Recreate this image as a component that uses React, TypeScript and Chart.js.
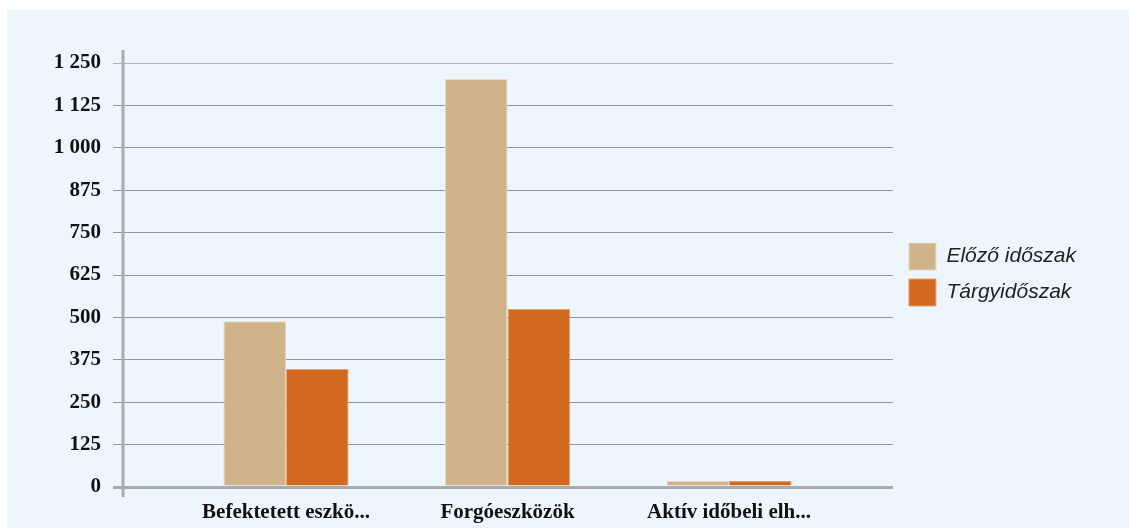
import React, { useEffect, useRef } from "react";
import { Chart, registerables } from "chart.js";

Chart.register(...registerables);

const categories = ["Befektetett eszkö...", "Forgóeszközök", "Aktív időbeli elh..."];
const seriesNames = ["Előző időszak", "Tárgyidőszak"];
const previousValues = [489, 1203, 18];
const currentValues = [348, 525, 18];
const yTicks = [0, 125, 250, 375, 500, 625, 750, 875, 1000, 1125, 1250];

const fmt = (v: number) => String(v).replace(/\B(?=(\d{3})+(?!\d))/g, " ");

const axisExtend = {
  id: "axisExtend",
  afterLayout(chart: any) {
    const lg = chart.legend;
    if (lg) {
      lg.top -= 21;
      lg.bottom -= 21;
      lg.left += 7;
      lg.right += 7;
    }
  },
  afterDraw(chart: any) {
    const { ctx, chartArea } = chart;
    ctx.save();
    ctx.strokeStyle = "#a9abad";
    ctx.lineWidth = 3;
    ctx.beginPath();
    ctx.moveTo(chartArea.left, chartArea.top - 13);
    ctx.lineTo(chartArea.left, chartArea.bottom + 10);
    ctx.stroke();
    ctx.restore();
  },
};

export default function App() {
  const ref = useRef<HTMLCanvasElement>(null);
  useEffect(() => {
    if (!ref.current) return;
    const chart = new Chart(ref.current, {
      type: "bar",
      data: {
        datasets: [
          {
            label: seriesNames[0],
            data: previousValues.map((v, i) => ({ x: i, y: v })),
            backgroundColor: "#d1b38b",
            borderColor: "#e6d8c2",
            borderWidth: 1,
            categoryPercentage: 0.565,
            barPercentage: 1,
          },
          {
            label: seriesNames[1],
            data: currentValues.map((v, i) => ({ x: i, y: v })),
            backgroundColor: "#d2691f",
            borderColor: "#e2a273",
            borderWidth: 1,
            categoryPercentage: 0.565,
            barPercentage: 1,
          },
        ],
      },
      options: {
        animation: false,
        responsive: true,
        maintainAspectRatio: false,
        layout: { padding: { top: 53, right: 50, bottom: 0, left: 0 } },
        plugins: {
          tooltip: { enabled: false },
          legend: {
            position: "right",
            labels: {
              boxWidth: 27,
              boxHeight: 27,
              padding: 9,
              color: "#222",
              font: { family: "'Liberation Sans', Arial, sans-serif", size: 21, style: "italic" },
            },
          },
        },
        scales: {
          x: {
            type: "linear",
            min: -0.736,
            max: 2.74,
            offset: false,
            afterBuildTicks: (scale: any) => {
              scale.ticks = categories.map((_, i) => ({ value: i }));
            },
            afterFit: (scale: any) => {
              scale.height = 41;
            },
            grid: { display: false, drawTicks: false },
            border: { display: true, color: "#a9abad", width: 3 },
            ticks: {
              padding: 13,
              autoSkip: false,
              maxRotation: 0,
              color: "#111",
              font: { family: "'Liberation Serif', 'Times New Roman', serif", size: 21, weight: "bold" },
              callback: (v: any) => categories[v] ?? "",
            },
          },
          y: {
            min: 0,
            max: 1250,
            afterBuildTicks: (scale: any) => {
              scale.ticks = yTicks.map((v) => ({ value: v }));
            },
            afterFit: (scale: any) => {
              scale.width = 116;
            },
            grid: {
              color: (c: any) => (c.tick && c.tick.value === 0 ? "#a9abad" : c.tick && c.tick.value === 1250 ? "#aeb3b5" : "#8f969b"),
              lineWidth: (c: any) => (c.tick && c.tick.value === 0 ? 3 : 1),
              tickLength: 10,
            },
            border: { display: false },
            ticks: {
              padding: 12,
              color: "#111",
              font: { family: "'Liberation Serif', 'Times New Roman', serif", size: 21, weight: "bold" },
              callback: (v: any) => fmt(Number(v)),
            },
          },
        },
      },
      plugins: [axisExtend],
    } as any);
    return () => chart.destroy();
  }, []);

  return (
    <div
      style={{
        position: "absolute",
        left: 7,
        top: 10,
        width: 1122,
        height: 518,
        background: "#eef6fd",
      }}
    >
      <canvas ref={ref} />
    </div>
  );
}
